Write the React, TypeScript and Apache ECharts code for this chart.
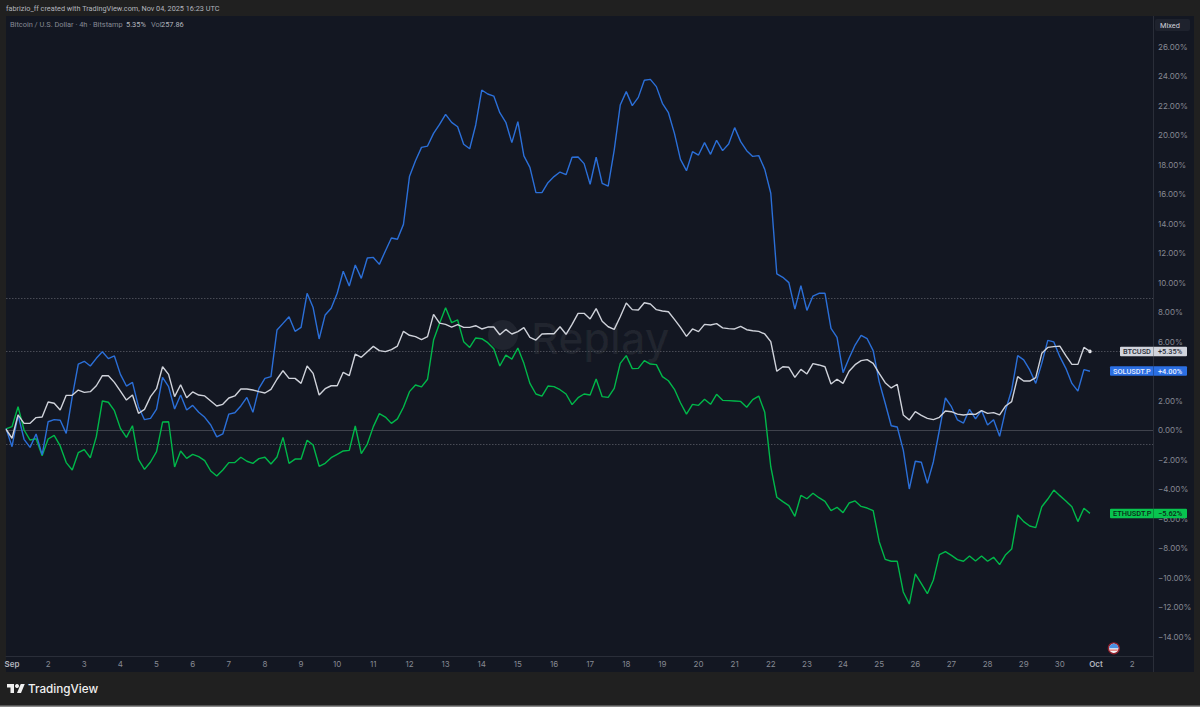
import React, { useEffect, useRef } from "react";
import * as echarts from "echarts";

const solValues = [
  0.11, -1.13, 1.02, -0.63, -1.18, -0.27, -1.69, 0.56, 0.7, 0.66, -0.23, 2.26, 4.47, 4.66, 4.34, 4.86, 5.31, 4.84, 5.02, 3.77,
  2.98, 3.23, 1.58, 0.7, 0.79, 1.42, 3.57, 2.94, 1.42, 2.37, 1.36, 1.67, 1.2, 0.86, 0.34, -0.47, -0.27, 1.08, 1.17, 1.63,
  2.21, 1.2, 2.82, 3.5, 3.62, 6.78, 7.23, 7.68, 6.69, 6.96, 9.27, 8.3, 6.17, 7.8, 8.25, 9.27, 10.76, 9.76, 11.19, 10.28,
  11.66, 11.7, 11.23, 12.14, 13.02, 12.93, 13.94, 17.18, 18.26, 19.16, 19.25, 20.11, 20.72, 21.4, 20.86, 20.56, 19.37, 19.07, 20.68, 23.05,
  22.78, 22.64, 21.51, 20.86, 19.48, 20.9, 18.58, 17.81, 16.09, 16.09, 16.77, 17.18, 17.49, 17.31, 18.49, 18.51, 18.06, 16.66, 18.49, 16.72,
  16.54, 18.98, 22.03, 22.94, 21.99, 22.55, 23.71, 23.77, 23.28, 22.15, 21.51, 20.11, 18.35, 17.58, 18.87, 18.64, 19.48, 18.69, 19.64, 18.94,
  19.39, 20.5, 19.55, 18.94, 18.55, 18.6, 17.67, 16.05, 10.58, 10.35, 9.99, 8.2, 9.79, 8.11, 9.08, 9.27, 9.27, 6.89, 6.28, 3.89,
  4.86, 5.76, 6.42, 6.19, 5.38, 3.28, 1.81, 0.29, 0.2, -1.36, -4.0, -2.12, -2.19, -3.62, -2.15, 0, 2.17, 1.58, 0.68, 0.47,
  1.4, 0.75, 1.33, 0.34, 0.7, -0.43, 1.36, 2.71, 5.04, 4.75, 4.07, 3.16, 4.52, 6.08, 5.97, 4.97, 4.18, 3.16, 2.64, 4.09,
  3.98,
];

const btcValues = [
  0.05, -0.56, 1.02, 0.45, 0.45, 0.84, 0.88, 1.9, 1.81, 1.36, 2.35, 2.35, 2.71, 2.55, 2.6, 3.0, 3.68, 3.68, 3.23, 2.64,
  2.03, 2.37, 1.13, 1.4, 2.26, 2.8, 4.29, 3.77, 2.26, 3.07, 2.19, 2.58, 2.37, 2.31, 1.97, 1.63, 1.74, 2.17, 2.31, 2.78,
  2.78, 2.71, 2.6, 2.51, 2.76, 3.44, 4.02, 3.5, 3.5, 3.16, 4.34, 3.84, 2.37, 2.8, 3.0, 3.0, 3.91, 3.68, 5.15, 4.93,
  5.31, 5.67, 5.38, 5.31, 5.45, 5.69, 6.69, 6.42, 6.33, 6.12, 6.33, 7.84, 7.25, 7.16, 6.98, 7.14, 6.96, 6.96, 7.07, 6.85,
  6.98, 6.98, 6.46, 6.82, 6.51, 6.67, 6.94, 6.28, 6.1, 6.51, 6.53, 6.53, 7.0, 6.49, 7.16, 7.91, 7.91, 7.53, 8.23, 7.37,
  7.0, 6.82, 7.68, 8.61, 8.16, 8.14, 8.63, 8.54, 8.16, 8.07, 8.02, 7.5, 6.96, 6.35, 6.85, 6.67, 7.16, 7.12, 7.21, 6.92,
  6.87, 6.85, 7.03, 6.8, 6.73, 6.69, 6.51, 5.99, 3.98, 4.29, 4.25, 3.57, 4.11, 3.8, 4.5, 4.41, 4.29, 3.12, 3.44, 3.16,
  3.98, 4.43, 4.7, 4.77, 4.52, 3.84, 3.21, 2.85, 3.1, 1.02, 0.68, 1.24, 0.99, 0.79, 0.7, 0.86, 1.29, 1.24, 1.08, 1.02,
  1.08, 1.06, 1.31, 1.13, 1.18, 1.02, 1.63, 1.92, 3.62, 3.32, 3.32, 3.55, 5.2, 5.6, 5.65, 5.69, 5.04, 4.45, 4.45, 5.6,
  5.33,
];

const ethValues = [
  0.07, 0.23, 1.58, 0.0, -0.68, -0.59, -1.74, -0.61, -0.36, -1.08, -2.21, -2.71, -1.54, -1.33, -1.88, -0.45, 1.97, 1.88, 1.31, 0.11,
  -0.5, 0.29, -1.99, -2.67, -2.17, -1.47, 0.54, 0.56, -2.51, -1.42, -1.92, -1.65, -1.81, -2.08, -2.78, -3.12, -2.71, -2.21, -2.21, -1.85,
  -2.12, -2.26, -1.94, -1.85, -2.31, -1.83, -0.5, -2.26, -1.97, -1.97, -0.7, -1.02, -2.46, -2.26, -1.88, -1.65, -1.42, -1.38, 0.27, -1.6,
  -0.95, 0.23, 1.11, 0.88, 0.45, 0.75, 1.54, 2.6, 3.05, 2.92, 3.44, 6.1, 7.23, 8.29, 7.28, 7.46, 5.99, 5.6, 6.24, 6.19,
  5.92, 5.51, 4.34, 5.08, 4.81, 5.56, 4.52, 3.16, 2.44, 2.3, 2.98, 2.94, 2.73, 2.44, 1.72, 2.19, 2.44, 2.37, 3.46, 2.26,
  2.21, 2.82, 4.52, 5.04, 4.16, 4.18, 4.7, 4.47, 4.43, 3.62, 3.34, 2.76, 1.85, 1.08, 1.74, 1.67, 2.08, 1.74, 2.42, 2.01,
  1.99, 1.97, 1.94, 1.54, 2.06, 2.3, 1.2, -2.49, -4.56, -4.86, -5.13, -5.85, -4.43, -4.66, -4.29, -4.59, -4.84, -5.47, -5.24, -5.6,
  -4.95, -4.81, -5.18, -5.29, -5.47, -7.57, -8.77, -8.9, -8.9, -10.98, -11.8, -9.76, -10.42, -11.1, -10.17, -8.45, -8.25, -8.5, -8.79, -8.9,
  -8.54, -8.88, -8.54, -8.9, -8.63, -9.13, -8.45, -8.07, -5.76, -6.21, -6.51, -6.62, -5.2, -4.68, -4.07, -4.45, -4.81, -5.2, -6.21, -5.31,
  -5.65,
];

const dayLabels = [
  "Sep", "2", "3", "4", "5", "6", "7", "8", "9", "10", "11", "12", "13", "14", "15", "16",
  "17", "18", "19", "20", "21", "22", "23", "24", "25", "26", "27", "28", "29", "30", "Oct", "2",
];
const dottedLevels = [8.95, 5.35, -0.98];
const zeroLevel = 0;

const titleText = "fabrizio_ff created with TradingView.com, Nov 04, 2025 16:23 UTC";
const legendName = "Bitcoin / U.S. Dollar · 4h · Bitstamp";
const legendChange = "5.35%";
const legendVolName = "Vol";
const legendVol = "257.86";

const badges = [
  { name: "BTCUSD", change: "+5.35%", bg: "#d1d4dc", fg: "#2a2e39", cy: 351.5, left: 1120 },
  { name: "SOLUSDT.P", change: "+4.00%", bg: "#2b6fe3", fg: "#e4ebff", cy: 371, left: 1110 },
  { name: "ETHUSDT.P", change: "−5.62%", bg: "#08c44f", fg: "#0b2a18", cy: 513.5, left: 1110 },
];

const BG = "#202020";
const PANEL = "#131722";
const BORDER = "#2a2e39";
const FONT = "Inter, 'Noto Sans', sans-serif";
const TEXT_FONT = "Roboto, 'Noto Sans', sans-serif";

echarts.graphic.registerShape(
  "tvLogo",
  echarts.graphic.extendPath("M14 22H7V11H0V4h14v18zM28 22h-8l7.5-18h8L28 22z", {}) as any
);

const pairs = (a: number[]) => a.map((v, i) => [i, v]);

export default function App() {
  const ref = useRef<HTMLDivElement>(null);
  useEffect(() => {
    document.body.style.margin = "0";
    document.body.style.background = BG;
    const chart = echarts.init(ref.current!, undefined, { renderer: "svg" });

    const badgeGraphics: any[] = [];
    badges.forEach((b) => {
      badgeGraphics.push(
        { type: "rect", shape: { x: b.left, y: b.cy - 4.8, width: 1187 - b.left, height: 9.6, r: 1 }, style: { fill: b.bg }, z: 20 },
        { type: "line", shape: { x1: 1153.5, y1: b.cy - 4.8, x2: 1153.5, y2: b.cy + 4.8 }, style: { stroke: "rgba(0,0,0,0.25)", lineWidth: 1 }, z: 21 },
        { type: "text", x: b.left + 3, y: b.cy, style: { text: b.name, fill: b.fg, font: `500 7.4px ${TEXT_FONT}`, textVerticalAlign: "middle" }, z: 22 },
        { type: "text", x: 1158, y: b.cy, style: { text: b.change, fill: b.fg, font: `500 7.4px ${TEXT_FONT}`, textVerticalAlign: "middle" }, z: 22 }
      );
    });

    const dotted = dottedLevels.map((v) => ({ yAxis: v, lineStyle: { color: "#484b55", type: [1.5, 1.5] as any, width: 1 } }));

    chart.setOption({
      animation: false,
      backgroundColor: BG,
      textStyle: { fontFamily: FONT },
      grid: { left: 6, right: 47, top: 17, height: 619.5, containLabel: false },
      xAxis: {
        type: "value",
        min: 0,
        max: 190.47,
        offset: 20,
        splitLine: { show: false },
        axisLine: { show: true, onZero: false, lineStyle: { color: BORDER, width: 1 } },
        axisTick: { show: false },
        axisLabel: {
          customValues: dayLabels.map((_, k) => 1 + 6 * k),
          margin: 3,
          fontSize: 8,
          color: "#868993",
          hideOverlap: false,
          showMinLabel: true,
          showMaxLabel: true,
          formatter: (v: number) => {
            const s = dayLabels[Math.round((v - 1) / 6)];
            return s === "Sep" || s === "Oct" ? `{b|${s}}` : s;
          },
          rich: { b: { fontSize: 8, fontWeight: 600, color: "#b2b5be" } },
        },
      },
      yAxis: {
        type: "value",
        position: "right",
        min: -14,
        max: 28,
        interval: 2,
        splitLine: { show: false },
        axisLine: { show: false },
        axisTick: { show: false },
        axisLabel: {
          margin: 5,
          fontSize: 8,
          color: "#868993",
          showMaxLabel: false,
          align: "left",
          formatter: (v: number) => (v < 0 ? "−" : "") + Math.abs(v).toFixed(2) + "%",
        },
      },
      series: [
        {
          name: "ETHUSDT.P",
          type: "line",
          data: pairs(ethValues),
          showSymbol: false,
          lineStyle: { color: "#00b84a", width: 1.4 },
          itemStyle: { color: "#00b84a" },
          z: 3,
          markLine: {
            silent: true,
            symbol: "none",
            label: { show: false },
            data: [...dotted, { yAxis: zeroLevel, lineStyle: { color: "#3f424c", type: "solid", width: 1 } }],
            z: 1,
          },
        },
        {
          name: "SOLUSDT.P",
          type: "line",
          data: pairs(solValues),
          showSymbol: false,
          lineStyle: { color: "#2b6fd8", width: 1.4 },
          itemStyle: { color: "#2b6fd8" },
          z: 4,
        },
        {
          name: "BTCUSD",
          type: "line",
          data: pairs(btcValues),
          showSymbol: false,
          lineStyle: { color: "#cfd2da", width: 1.4 },
          itemStyle: { color: "#cfd2da" },
          z: 5,
          markPoint: {
            silent: true,
            symbol: "circle",
            symbolSize: 3.5,
            label: { show: false },
            itemStyle: { color: "#e8e9ee" },
            data: [{ coord: [btcValues.length - 1, btcValues[btcValues.length - 1]] }],
          },
        },
      ],
      graphic: [
        { type: "rect", shape: { x: 6, y: 16, width: 1188, height: 656 }, style: { fill: PANEL }, z: -10, silent: true },
        { type: "line", shape: { x1: 1153.5, y1: 16, x2: 1153.5, y2: 672 }, style: { stroke: BORDER, lineWidth: 1 }, z: -9 },
        { type: "rect", shape: { x: 0, y: 705.5, width: 1200, height: 1.5 }, style: { fill: "#8a8a8a" }, z: -9 },
        { type: "text", x: 6, y: 8.5, style: { text: titleText, fill: "#b2b5be", font: `400 7.3px ${TEXT_FONT}`, textVerticalAlign: "middle" } },
        { type: "text", x: 10, y: 24.5, style: { text: legendName, fill: "#868993", font: `7.4px ${TEXT_FONT}`, textVerticalAlign: "middle" } },
        { type: "text", x: 126, y: 24.5, style: { text: legendChange, fill: "#b2b5be", font: `7.4px ${TEXT_FONT}`, textVerticalAlign: "middle" } },
        { type: "text", x: 151, y: 24.5, style: { text: legendVolName, fill: "#868993", font: `7.4px ${TEXT_FONT}`, textVerticalAlign: "middle" } },
        { type: "text", x: 161, y: 24.5, style: { text: legendVol, fill: "#b2b5be", font: `7.4px ${TEXT_FONT}`, textVerticalAlign: "middle" } },
        { type: "rect", shape: { x: 1155, y: 19, width: 35, height: 12, r: 2 }, style: { fill: "#1e222d" } },
        { type: "text", x: 1160, y: 25, style: { text: "Mixed", fill: "#d1d4dc", font: `7.4px ${TEXT_FONT}`, textVerticalAlign: "middle" } },
        { type: "circle", shape: { cx: 503, cy: 335, r: 15 }, style: { fill: "rgba(255,255,255,0.06)" }, z: 1 },
        { type: "text", x: 531, y: 338, style: { text: "Replay", fill: "rgba(255,255,255,0.06)", font: `500 43px ${FONT}`, textVerticalAlign: "middle" }, z: 1 },
        { type: "tvLogo", x: 7, y: 682, scaleX: 0.5, scaleY: 0.5, style: { fill: "#f0f0f0" } },
        { type: "circle", shape: { cx: 17, cy: 686, r: 2 }, style: { fill: "#f0f0f0" } },
        { type: "text", x: 28, y: 689, style: { text: "TradingView", fill: "#f0f0f0", font: `500 11.7px ${FONT}`, textVerticalAlign: "middle" } },
        { type: "circle", shape: { cx: 1113.8, cy: 648.3, r: 5.4 }, style: { fill: "#f4f4f6", stroke: "#8f1f2b", lineWidth: 1.4 }, z: 10 },
        { type: "sector", shape: { cx: 1113.8, cy: 648.3, r: 4.6, r0: 0, startAngle: Math.PI, endAngle: Math.PI * 2 }, style: { fill: "#4a90e2" }, z: 11 },
        { type: "rect", shape: { x: 1110, y: 649.6, width: 7.8, height: 1 }, style: { fill: "#d9433f" }, z: 11 },
        ...badgeGraphics,
      ],
    });
    return () => chart.dispose();
  }, []);
  return <div ref={ref} style={{ width: 1200, height: 707 }} />;
}
